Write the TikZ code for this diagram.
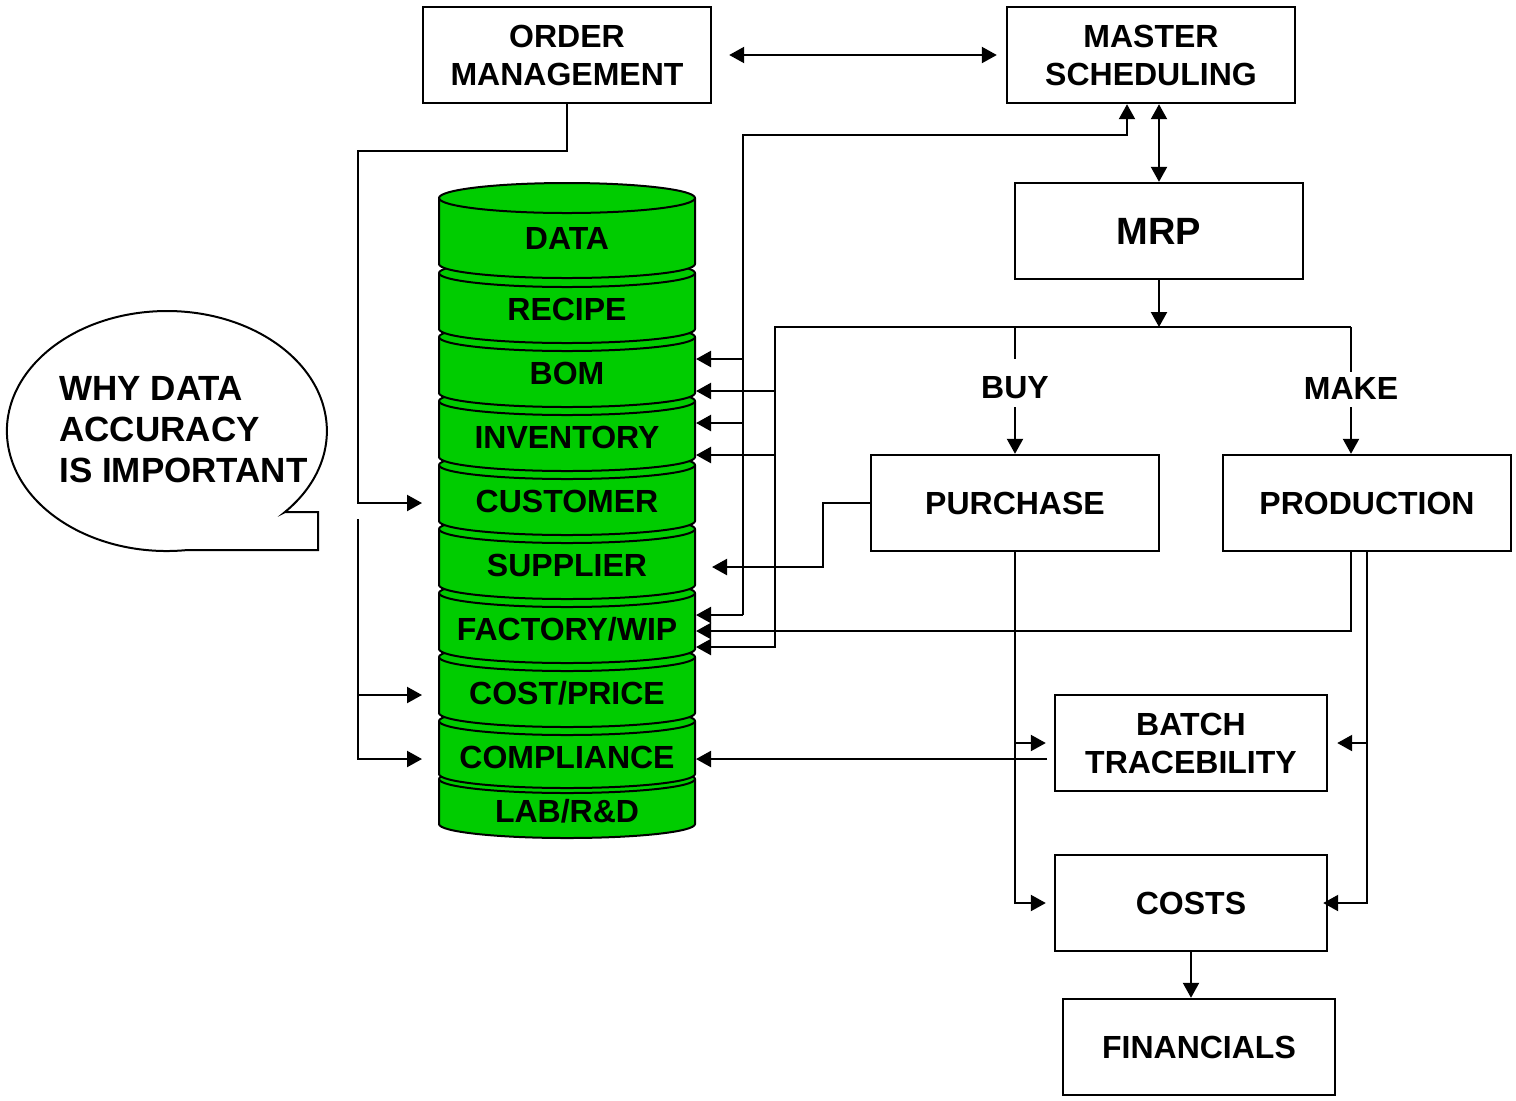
\documentclass[tikz,border=0pt]{standalone}
\usepackage{fontspec}
\setmainfont{Liberation Sans}
\usetikzlibrary{arrows.meta}

\definecolor{cangreen}{RGB}{0,204,0}

\tikzset{
  boxtext/.style={font=\fontsize{16}{19}\selectfont\bfseries},
  box/.style={boxtext, draw, line width=1.2pt, minimum width=144pt, minimum height=48pt,
    align=center, inner sep=0pt},
  narrowbox/.style={box, minimum width=136pt},
  wire/.style={line width=1.1pt},
  arr/.style={wire, -{Triangle[length=7.5pt,width=8pt]}},
  biarr/.style={wire, {Triangle[length=7.5pt,width=8pt]}-{Triangle[length=7.5pt,width=8pt]}},
  canlabel/.style={boxtext, inner sep=0pt},
  branchlabel/.style={boxtext, inner sep=0pt},
  can/.style={fill=cangreen, draw=black, line width=1pt},
}

% one disc of the database stack: #1 top centre, #2 bottom of the sides,
% #3 radius of the top ellipse, #4 radius of the bottom arc
\newcommand\stackcan[4]{%
  \filldraw[can] (439,#1) -- (439,#2)
    arc[start angle=180, end angle=0, x radius=128, y radius=#4]
    -- (695,#1)
    arc[start angle=360, end angle=180, x radius=128, y radius=#3] -- cycle;
  \draw[can, fill=none] (439,#1)
    arc[start angle=180, end angle=0, x radius=128, y radius=#3];
}

\begin{document}
\begin{tikzpicture}[x=0.5pt, y=-0.5pt]
\fill[white] (0,0) rectangle (1516,1100);
\useasboundingbox (0,0) rectangle (1516,1100);

% ---- speech bubble ----
\draw[line width=1pt, fill=white] (285,512) -- (318,512) -- (318,550) -- (187.5,550)
  arc[start angle=82.6, end angle=402.5, x radius=160, y radius=120] -- cycle;
\node[font=\fontsize{17.5}{20.5}\selectfont\bfseries, anchor=west, align=left, inner sep=0pt]
  (why) at (59,430) {WHY DATA\\ACCURACY\\IS IMPORTANT};

% ---- database stack (drawn bottom to top) ----
\stackcan{779}{824}{14}{14}
\stackcan{721}{774}{14}{14}
\stackcan{657}{713}{14}{14}
\stackcan{593}{649}{14}{14}
\stackcan{529}{585}{14}{14}
\stackcan{465}{521}{14}{14}
\stackcan{401}{457}{14}{14}
\stackcan{337}{393}{14}{14}
\stackcan{273}{329}{14}{14}
\stackcan{198}{264}{15}{14}

\node[canlabel] (cData) at (567,238) {DATA};
\node[canlabel] (cRecipe) at (567,309) {RECIPE};
\node[canlabel] (cBom) at (567,373) {BOM};
\node[canlabel] (cInv) at (567,437) {INVENTORY};
\node[canlabel] (cCust) at (567,501) {CUSTOMER};
\node[canlabel] (cSupp) at (567,565) {SUPPLIER};
\node[canlabel] (cFact) at (567,629) {FACTORY/WIP};
\node[canlabel] (cCost) at (567,693) {COST/PRICE};
\node[canlabel] (cComp) at (567,757) {COMPLIANCE};
\node[canlabel] (cLab) at (567,811) {LAB/R\&D};

% attachment points on the stack
\coordinate (bomA) at (696,359);
\coordinate (bomB) at (696,391);
\coordinate (invA) at (696,423);
\coordinate (invB) at (696,455);
\coordinate (supA) at (712,567);
\coordinate (facA) at (696,615);
\coordinate (facB) at (696,631);
\coordinate (facC) at (696,647);
\coordinate (cmpR) at (696,759);
\coordinate (cusL) at (422,503);
\coordinate (cstL) at (422,695);
\coordinate (cmpL) at (422,759);

% ---- process boxes ----
\node[box] (om) at (567,55) {ORDER\\MANAGEMENT};
\node[box] (ms) at (1151,55) {MASTER\\SCHEDULING};
\node[box, font=\fontsize{19}{22}\selectfont\bfseries] (mrp) at (1159,231) {MRP};
\node[box] (pur) at (1015,503) {PURCHASE};
\node[box] (prod) at (1367,503) {PRODUCTION};
\node[narrowbox] (batch) at (1191,743) {BATCH\\TRACEBILITY};
\node[narrowbox] (costs) at (1191,903) {COSTS};
\node[narrowbox] (fin) at (1199,1047) {FINANCIALS};

\node[branchlabel] (buy) at (1015,388) {BUY};
\node[branchlabel] (make) at (1351,388) {MAKE};

% ---- routing points ----
\coordinate (fbBus) at (743,135);
\coordinate (fbTurn) at (1127,135);
\coordinate (split) at (1159,327);
\coordinate (distL) at (775,327);
\coordinate (distR) at (1351,327);
\coordinate (buyUp) at (1015,359);
\coordinate (buyDn) at (1015,407);
\coordinate (makeUp) at (1351,372);
\coordinate (makeDn) at (1351,407);
\coordinate (supTurn) at (823,503);
\coordinate (trace) at (1047,759);
\coordinate (omTurn) at (358,151);
\coordinate (leftBus) at (358,519);

% ---- connectors ----
\draw[biarr] ([xshift=8.5pt]om.east) -- ([xshift=-4.5pt]ms.west);
\draw[biarr] (mrp.north |- ms.south) -- (mrp.north);

% feedback to master scheduling and the stack
\draw[arr] (facA -| fbBus) -- (fbBus) -- (fbTurn) -- (fbTurn |- ms.south);
\draw[arr] (bomA -| fbBus) -- (bomA);
\draw[arr] (invA -| fbBus) -- (invA);
\draw[arr] (facA -| fbBus) -- (facA);

% MRP distribution bar
\draw[arr] (mrp.south) -- (split);
\draw[arr] (distR) -- (distL) -- (facC -| distL) -- (facC);
\draw[arr] (bomB -| distL) -- (bomB);
\draw[arr] (invB -| distL) -- (invB);
\draw[wire] (distL -| buy) -- (buyUp);
\draw[arr] (buyDn) -- (pur.north);
\draw[wire] (distR) -- (makeUp);
\draw[arr] (makeDn) -- (makeDn |- prod.north);

% purchase and production outputs
\draw[arr] (pur.west) -- (supTurn) -- (supTurn |- supA) -- (supA);
\draw[arr] (makeDn |- prod.south) -- (makeDn |- facB) -- (facB);
\draw[arr] (prod.south) -- (prod.south |- costs.east) -- ([xshift=-2.5pt]costs.east);
\draw[arr] (prod.south |- batch.east) -- ([xshift=4.5pt]batch.east);
\draw[arr] (pur.south) -- (pur.south |- costs.west) -- ([xshift=-4pt]costs.west);
\draw[arr] (pur.south |- batch.west) -- ([xshift=-4pt]batch.west);
\draw[arr] (trace) -- (cmpR);
\draw[arr] (costs.south) -- (costs.south |- fin.north);

% order management and the left-hand feeds
\draw[arr] (om.south) -- (om.south |- omTurn) -- (omTurn) -- (omTurn |- cusL) -- (cusL);
\draw[arr] (leftBus) -- (leftBus |- cmpL) -- (cmpL);
\draw[arr] (leftBus |- cstL) -- (cstL);
\end{tikzpicture}
\end{document}
